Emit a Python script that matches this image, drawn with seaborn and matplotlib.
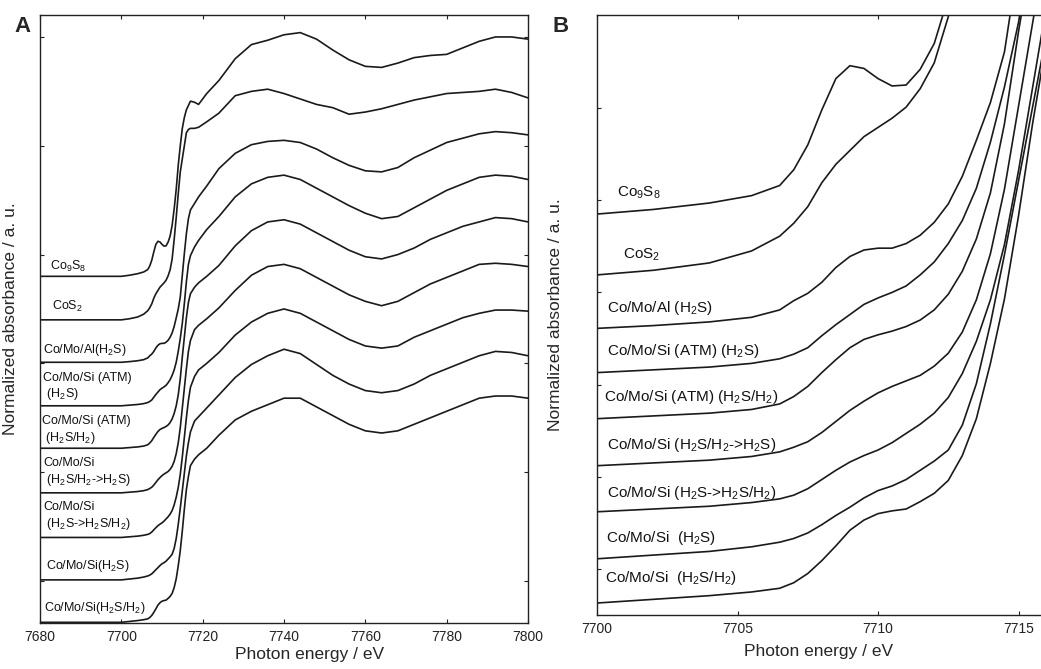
import numpy as np
import pandas as pd
import matplotlib
matplotlib.use('Agg')
import matplotlib.pyplot as plt
import seaborn as sns

# photon energy grid (eV), shared by all spectra
energy = [7680, 7692, 7700, 7702, 7704, 7705.5, 7706.5, 7707, 7707.5, 7708,
          7708.5, 7709, 7709.5, 7710, 7710.5, 7711, 7711.5, 7712, 7712.5, 7713,
          7713.5, 7714, 7714.5, 7715, 7715.5, 7716, 7716.5, 7717, 7718, 7719,
          7721, 7724, 7728, 7732, 7736, 7740, 7744, 7748, 7752, 7756,
          7760, 7764, 7768, 7772, 7776, 7780, 7784, 7788, 7792, 7796, 7800]

# normalized absorbance
mu_co9s8 = [0.0, 0.0, 0.0, 0.005, 0.012, 0.02, 0.031, 0.048, 0.075, 0.113,
            0.147, 0.161, 0.158, 0.147, 0.139, 0.140, 0.157, 0.185, 0.235, 0.31,
            0.40, 0.51, 0.60, 0.68, 0.73, 0.765, 0.785, 0.805, 0.80, 0.79,
            0.84, 0.90, 1.00, 1.065, 1.085, 1.11, 1.12, 1.09, 1.04, 0.995,
            0.965, 0.96, 0.98, 1.005, 1.015, 1.02, 1.05, 1.08, 1.10, 1.10, 1.09]
mu_cos2 = [0.0, 0.0, 0.0, 0.005, 0.013, 0.026, 0.042, 0.056, 0.074, 0.100,
           0.120, 0.135, 0.150, 0.160, 0.170, 0.182, 0.202, 0.230, 0.28, 0.37,
           0.47, 0.58, 0.68, 0.74, 0.80, 0.86, 0.875, 0.88, 0.88, 0.885,
           0.91, 0.95, 1.03, 1.05, 1.06, 1.04, 1.015, 0.99, 0.975, 0.945,
           0.955, 0.97, 0.99, 1.01, 1.025, 1.04, 1.045, 1.05, 1.06, 1.045, 1.02]
mu_al_h2s = [0.0, 0.0, 0.0, 0.003, 0.007, 0.012, 0.02, 0.03, 0.038, 0.05,
             0.066, 0.078, 0.085, 0.087, 0.087, 0.092, 0.101, 0.115, 0.135, 0.165,
             0.204, 0.245, 0.30, 0.40, 0.50, 0.59, 0.66, 0.70, 0.73, 0.76,
             0.81, 0.89, 0.96, 1.00, 1.015, 1.02, 1.01, 0.98, 0.94, 0.905,
             0.88, 0.875, 0.895, 0.94, 0.975, 1.01, 1.03, 1.05, 1.06, 1.055, 1.045]
mu_atm_h2s = [0.0, 0.0, 0.0, 0.003, 0.006, 0.01, 0.015, 0.02, 0.027, 0.04,
              0.052, 0.063, 0.074, 0.081, 0.087, 0.094, 0.106, 0.12, 0.14, 0.165,
              0.20, 0.25, 0.31, 0.38, 0.47, 0.57, 0.65, 0.69, 0.73, 0.76,
              0.81, 0.87, 0.96, 1.02, 1.05, 1.06, 1.04, 1.00, 0.96, 0.92,
              0.885, 0.86, 0.87, 0.91, 0.95, 0.99, 1.02, 1.05, 1.06, 1.055, 1.04]
mu_atm_h2s_h2 = [0.0, 0.0, 0.0, 0.003, 0.006, 0.01, 0.016, 0.024, 0.035, 0.05,
                 0.064, 0.077, 0.086, 0.091, 0.095, 0.10, 0.107, 0.118, 0.135, 0.16,
                 0.195, 0.245, 0.32, 0.42, 0.51, 0.60, 0.67, 0.71, 0.74, 0.76,
                 0.79, 0.84, 0.93, 1.00, 1.04, 1.05, 1.03, 0.99, 0.95, 0.91,
                 0.88, 0.87, 0.89, 0.92, 0.96, 0.99, 1.02, 1.04, 1.06, 1.055, 1.04]
mu_si_mix_h2s = [0.0, 0.0, 0.0, 0.003, 0.006, 0.01, 0.015, 0.02, 0.026, 0.036,
                 0.048, 0.06, 0.07, 0.079, 0.086, 0.092, 0.098, 0.108, 0.122, 0.145,
                 0.18, 0.23, 0.30, 0.39, 0.48, 0.57, 0.65, 0.70, 0.75, 0.77,
                 0.80, 0.85, 0.93, 1.00, 1.04, 1.05, 1.03, 0.99, 0.95, 0.91,
                 0.88, 0.86, 0.88, 0.92, 0.96, 0.99, 1.02, 1.05, 1.055, 1.05, 1.04]
mu_si_h2s_mix = [0.0, 0.0, 0.0, 0.003, 0.006, 0.01, 0.014, 0.018, 0.025, 0.035,
                 0.045, 0.054, 0.061, 0.067, 0.075, 0.085, 0.095, 0.107, 0.124, 0.15,
                 0.185, 0.23, 0.29, 0.37, 0.46, 0.55, 0.63, 0.69, 0.74, 0.77,
                 0.80, 0.85, 0.93, 0.99, 1.03, 1.05, 1.03, 0.99, 0.95, 0.91,
                 0.88, 0.87, 0.88, 0.92, 0.95, 0.98, 1.01, 1.03, 1.045, 1.045, 1.04]
mu_si_h2s = [0.0, 0.0, 0.0, 0.004, 0.008, 0.013, 0.018, 0.022, 0.028, 0.037,
             0.047, 0.056, 0.066, 0.074, 0.079, 0.086, 0.096, 0.106, 0.118, 0.145,
             0.19, 0.255, 0.33, 0.41, 0.49, 0.57, 0.63, 0.68, 0.73, 0.75,
             0.79, 0.85, 0.93, 0.99, 1.03, 1.06, 1.04, 0.99, 0.94, 0.90,
             0.87, 0.86, 0.87, 0.90, 0.94, 0.97, 1.00, 1.03, 1.05, 1.045, 1.03]
mu_si_h2s_h2 = [0.0, 0.0, 0.0, 0.004, 0.008, 0.012, 0.016, 0.022, 0.032, 0.046,
                0.062, 0.079, 0.09, 0.097, 0.10, 0.102, 0.11, 0.119, 0.133, 0.16,
                0.20, 0.26, 0.33, 0.42, 0.52, 0.61, 0.67, 0.72, 0.75, 0.77,
                0.80, 0.86, 0.93, 0.97, 1.00, 1.03, 1.03, 0.99, 0.95, 0.91,
                0.88, 0.87, 0.88, 0.91, 0.94, 0.97, 1.00, 1.03, 1.04, 1.04, 1.03]

spectra = [mu_co9s8, mu_cos2, mu_al_h2s, mu_atm_h2s, mu_atm_h2s_h2,
           mu_si_mix_h2s, mu_si_h2s_mix, mu_si_h2s, mu_si_h2s_h2]

labels_a = ['Co$_9$S$_8$', 'CoS$_2$', 'Co/Mo/Al(H$_2$S)',
            'Co/Mo/Si (ATM)\n (H$_2$S)', 'Co/Mo/Si (ATM)\n (H$_2$S/H$_2$)',
            'Co/Mo/Si\n (H$_2$S/H$_2$->H$_2$S)', 'Co/Mo/Si\n (H$_2$S->H$_2$S/H$_2$)',
            'Co/Mo/Si(H$_2$S)', 'Co/Mo/Si(H$_2$S/H$_2$)']
labels_b = ['Co$_9$S$_8$', 'CoS$_2$', 'Co/Mo/Al (H$_2$S)',
            'Co/Mo/Si (ATM) (H$_2$S)', 'Co/Mo/Si (ATM) (H$_2$S/H$_2$)',
            'Co/Mo/Si (H$_2$S/H$_2$->H$_2$S)', 'Co/Mo/Si (H$_2$S->H$_2$S/H$_2$)',
            'Co/Mo/Si  (H$_2$S)', 'Co/Mo/Si  (H$_2$S/H$_2$)']

# vertical stacking offsets for each panel
offset_a = [1.40, 1.20, 1.005, 0.805, 0.61, 0.405, 0.20, 0.005, -0.19]
offset_b = [0.385, 0.319, 0.261, 0.213, 0.163, 0.112, 0.062, 0.011, -0.037]

# label anchor points (axes fraction)
pos_a = [(0.020, 0.587), (0.025, 0.520), (0.006, 0.449), (0.006, 0.388),
         (0.004, 0.317), (0.006, 0.248), (0.006, 0.175), (0.012, 0.094),
         (0.008, 0.025)]
pos_b = [(0.045, 0.703), (0.059, 0.600), (0.023, 0.512), (0.023, 0.440),
         (0.016, 0.363), (0.023, 0.283), (0.023, 0.203), (0.020, 0.128),
         (0.018, 0.062)]

sns.set_theme(style='ticks')
plt.rcParams['font.family'] = ['Liberation Sans', 'DejaVu Sans']
plt.rcParams['mathtext.fontset'] = 'custom'
plt.rcParams['mathtext.rm'] = 'Liberation Sans'
plt.rcParams['mathtext.it'] = 'Liberation Sans:italic'
plt.rcParams['mathtext.default'] = 'rm'

line_color = '#1a1a1a'


def stacked_frame(offsets):
    rows = []
    for i, (mu, off) in enumerate(zip(spectra, offsets)):
        for e, m in zip(energy, mu):
            rows.append({'sample': i, 'energy': e, 'y': m + off})
    return pd.DataFrame(rows)


fig = plt.figure(figsize=(10.41, 6.69), dpi=100)
ax_a = fig.add_axes([0.0384, 0.0688, 0.4688, 0.9088])
ax_b = fig.add_axes([0.5735, 0.0807, 0.4265, 0.8969])

# Panel A: full XANES range
sns.lineplot(data=stacked_frame(offset_a), x='energy', y='y', units='sample',
             estimator=None, sort=False, color=line_color, linewidth=1.2,
             ax=ax_a, legend=False)
ax_a.set_xlim(7680, 7800)
ax_a.set_ylim(-0.193, 2.601)
ax_a.set_xticks(np.arange(7680, 7801, 20))
ax_a.set_yticks(np.arange(0, 2.6, 0.5))
ax_a.set_yticklabels([])
ax_a.tick_params(direction='in', top=True, right=True, length=3, width=0.8,
                 labelsize=10, colors='#222222', pad=5)
ax_a.set_xlabel('Photon energy / eV', fontsize=12.5)
ax_a.set_ylabel('Normalized absorbance / a. u.', fontsize=12.5)
ax_a.xaxis.set_label_coords(0.553, -0.040)
ax_a.yaxis.set_label_coords(-0.045, 0.5)
for lab, (fx, fy) in zip(labels_a, pos_a):
    ax_a.text(fx, fy, lab, transform=ax_a.transAxes, fontsize=9,
              ha='left', va='center', linespacing=1.25, color='#111111')

# Panel B: pre-edge zoom
sns.lineplot(data=stacked_frame(offset_b), x='energy', y='y', units='sample',
             estimator=None, sort=False, color=line_color, linewidth=1.2,
             ax=ax_b, legend=False)
ax_b.set_xlim(7700, 7715.8)
ax_b.set_ylim(-0.050, 0.601)
ax_b.set_xticks([7700, 7705, 7710, 7715])
ax_b.set_yticks(np.arange(0, 0.55, 0.1))
ax_b.set_yticklabels([])
ax_b.spines['right'].set_visible(False)
ax_b.tick_params(direction='in', top=True, right=False, length=3, width=0.8,
                 labelsize=10, colors='#222222', pad=5)
ax_b.set_xlabel('Photon energy / eV', fontsize=12.5)
ax_b.set_ylabel('Normalized absorbance / a. u.', fontsize=12.5)
ax_b.xaxis.set_label_coords(0.5, -0.048)
ax_b.yaxis.set_label_coords(-0.077, 0.5)
for lab, (fx, fy) in zip(labels_b, pos_b):
    ax_b.text(fx, fy, lab, transform=ax_b.transAxes, fontsize=11,
              ha='left', va='center', color='#111111')

for ax in (ax_a, ax_b):
    for sp in ax.spines.values():
        sp.set_linewidth(1.0)
        sp.set_color('#222222')

fig.text(0.014, 0.961, 'A', fontsize=16, fontweight='bold', va='center')
fig.text(0.531, 0.961, 'B', fontsize=16, fontweight='bold', va='center')

fig.savefig('out.png', dpi=100)
